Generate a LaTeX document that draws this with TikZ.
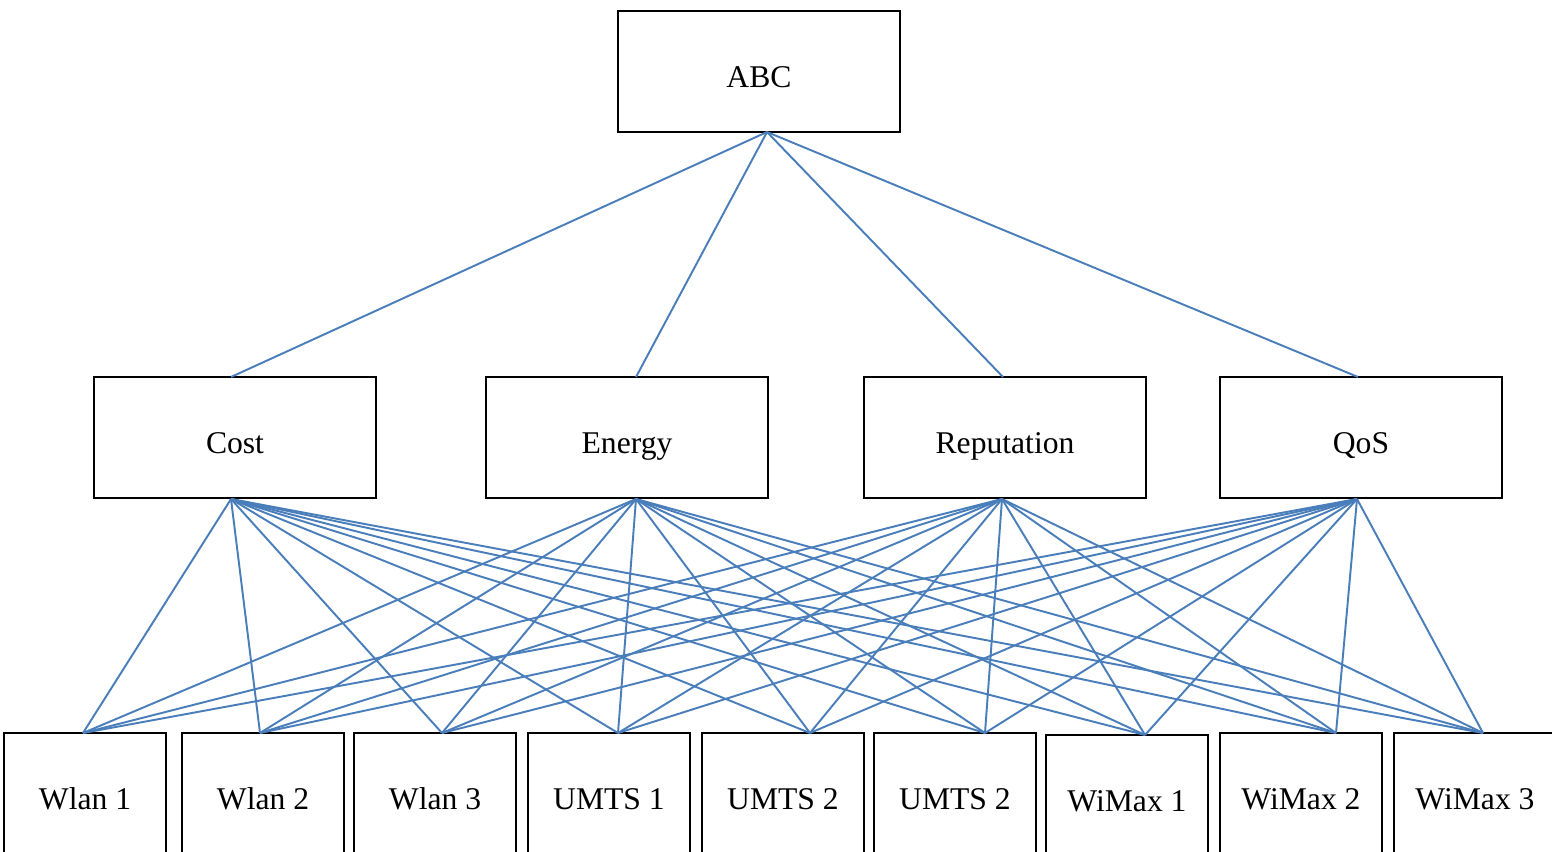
\documentclass[tikz,border=0pt]{standalone}
\usepackage{fontspec}
\setmainfont{Liberation Serif}
\definecolor{linkblue}{HTML}{4A7EBB}
\tikzset{
  box/.style={draw=black, line width=0.8pt, minimum width=5.64cm, minimum height=2.42cm,
    text height=0.75cm, text depth=0.115cm, font=\fontsize{18}{22}\selectfont},
  altbox/.style={box, minimum width=3.24cm},
  link/.style={linkblue, line width=1.1pt}
}
\begin{document}
\begin{tikzpicture}[x=0.02cm, y=-0.02cm]
  % The page is the size of the reference; the lowest row runs off its bottom edge.
  \clip (0,0) rectangle (1552,852);
  \fill[white] (0,0) rectangle (1552,852);

  % Goal.
  \node[box] (abc) at (759,71.5) {ABC};
  \coordinate (abc-port) at (767,132);

  % Criteria.
  \node[box] (cost) at (235,437.5) {Cost};
  \node[box] (energy) at (627,437.5) {Energy};
  \node[box] (reputation) at (1005,437.5) {Reputation};
  \node[box] (qos) at (1361,437.5) {QoS};
  \coordinate (cost-in) at (231,377);       \coordinate (cost-out) at (231,499);
  \coordinate (energy-in) at (636,377);     \coordinate (energy-out) at (636,499);
  \coordinate (reputation-in) at (1003,377); \coordinate (reputation-out) at (1002,499);
  \coordinate (qos-in) at (1358,377);       \coordinate (qos-out) at (1357,499);

  % Alternatives.
  \node[altbox] (wlan1) at (85,793.5) {Wlan 1};
  \node[altbox] (wlan2) at (263,793.5) {Wlan 2};
  \node[altbox] (wlan3) at (435,793.5) {Wlan 3};
  \node[altbox] (umts1) at (609,793.5) {UMTS 1};
  \node[altbox] (umts2) at (783,793.5) {UMTS 2};
  \node[altbox] (umts3) at (955,793.5) {UMTS 2};
  \node[altbox] (wimax1) at (1127,795.5) {WiMax 1};
  \node[altbox] (wimax2) at (1301,793.5) {WiMax 2};
  \node[altbox] (wimax3) at (1475,793.5) {WiMax 3};
  \coordinate (wlan1-port) at (83,733);
  \coordinate (wlan2-port) at (260,733);
  \coordinate (wlan3-port) at (442,733);
  \coordinate (umts1-port) at (618,733);
  \coordinate (umts2-port) at (810,733);
  \coordinate (umts3-port) at (985,733);
  \coordinate (wimax1-port) at (1145,735);
  \coordinate (wimax2-port) at (1336,733);
  \coordinate (wimax3-port) at (1483,733);

  % Goal to criteria.
  \foreach \c in {cost,energy,reputation,qos}
    \draw[link] (abc-port) -- (\c-in);

  % Every criterion to every alternative.
  \foreach \c in {cost,energy,reputation,qos}
    \foreach \a in {wlan1,wlan2,wlan3,umts1,umts2,umts3,wimax1,wimax2,wimax3}
      \draw[link] (\c-out) -- (\a-port);
\end{tikzpicture}
\end{document}
